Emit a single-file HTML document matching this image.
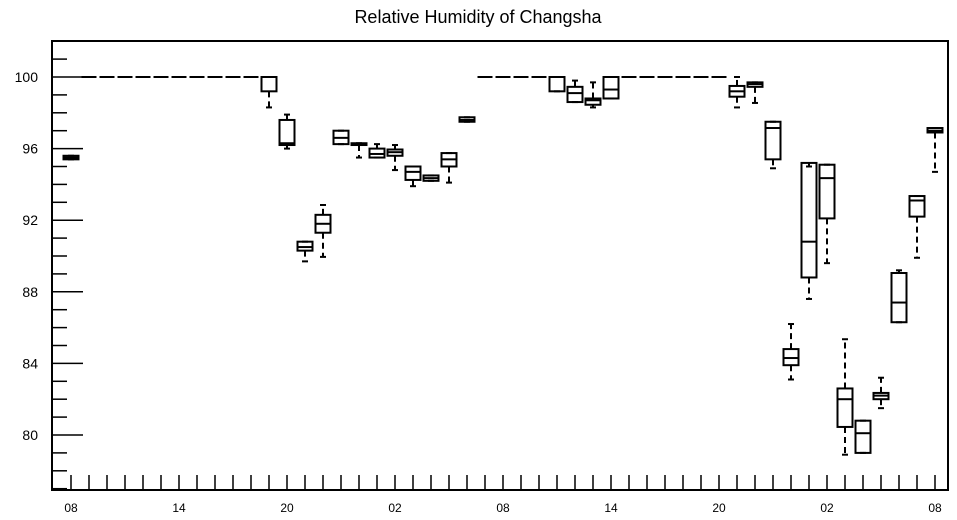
<!DOCTYPE html>
<html><head><meta charset="utf-8"><style>
body{margin:0;background:#fff;}
svg{display:block;font-family:"Liberation Sans",sans-serif;}
</style></head><body>
<svg id="c" width="957" height="520">
<text x="478" y="23" text-anchor="middle" font-size="18">Relative Humidity of Changsha</text>
<g id="axes"></g><g id="boxes"></g>
</svg>
<script>
const hours=[0,1,2,3,4,5,6,7,8,9,10,11,12,13,14,15,16,17,18,19,20,21,22,23,24,25,26,27,28,29,30,31,32,33,34,35,36,37,38,39,40,41,42,43,44,45,46,47,48];
const lowW=[95.4,100,100,100,100,100,100,100,100,100,100,98.3,96.0,89.7,89.95,96.25,95.5,95.5,94.8,93.9,94.2,94.1,97.5,100,100,100,100,99.2,98.6,98.3,98.8,100,100,100,100,100,100,98.3,98.55,94.9,83.1,87.6,89.6,78.9,79.0,81.5,86.3,89.9,94.7];
const q1=[95.4,100,100,100,100,100,100,100,100,100,100,99.2,96.2,90.3,91.3,96.25,96.2,95.5,95.6,94.25,94.2,95.0,97.5,100,100,100,100,99.2,98.6,98.45,98.8,100,100,100,100,100,100,98.9,99.45,95.4,83.9,88.8,92.1,80.45,79.0,82.0,86.3,92.2,96.9];
const med=[95.5,100,100,100,100,100,100,100,100,100,100,100,96.3,90.5,91.8,96.6,96.25,95.7,95.8,94.7,94.35,95.4,97.6,100,100,100,100,100,99.1,98.7,99.3,100,100,100,100,100,100,99.2,99.6,97.15,84.3,90.8,94.35,82.0,80.1,82.2,87.4,93.1,97.0];
const q3=[95.6,100,100,100,100,100,100,100,100,100,100,100,97.6,90.8,92.3,97.0,96.3,96.0,95.95,95.0,94.5,95.75,97.75,100,100,100,100,100,99.45,98.8,100,100,100,100,100,100,100,99.5,99.7,97.5,84.8,95.2,95.1,82.6,80.8,82.35,89.05,93.35,97.15];
const highW=[95.6,100,100,100,100,100,100,100,100,100,100,100,97.9,90.8,92.85,97.0,96.3,96.25,96.2,95.0,94.5,95.75,97.75,100,100,100,100,100,99.8,99.7,100,100,100,100,100,100,100,100,99.7,97.5,86.2,95.0,95.1,85.35,80.8,83.2,89.2,93.35,97.15];
const yTicks=[80,84,88,92,96,100];
const xLabels=["08","14","20","02","08","14","20","02","08"];

const NS="http://www.w3.org/2000/svg";
const L=52,R=948,T=41,B=490;
const X=h=>71+18*h;
const Y=v=>77+(100-v)*17.9;
function mk(tag,at,parent){const e=document.createElementNS(NS,tag);for(const k in at)e.setAttribute(k,at[k]);parent.appendChild(e);return e;}
const ax=document.getElementById('axes');
let fr=mk('rect',{x:L,y:T,width:R-L,height:B-T,fill:'none',stroke:'#000','stroke-width':2},ax);


for(let v=77;v<=102;v++){
  const maj=yTicks.includes(v);
  const t=mk('line',{x1:L,x2:L+(maj?31:15),y1:Y(v),y2:Y(v),stroke:'#000','stroke-width':1.5},ax);
  
  
}
yTicks.forEach(v=>{
  const t=mk('text',{x:38,y:Y(v)+5,'text-anchor':'end','font-size':14},ax);t.textContent=v;
  
  
});
for(let h=-1;h<=48;h++){
  const x=X(h);if(x<=L+1)continue;
  const t=mk('line',{x1:x,x2:x,y1:B,y2:B-15,stroke:'#000','stroke-width':1.5},ax);
  
  
}
xLabels.forEach((s,i)=>{
  const t=mk('text',{x:X(i*6),y:512,'text-anchor':'middle','font-size':12},ax);t.textContent=s;
  
  
});
const bx=document.getElementById('boxes');
hours.forEach((h,i)=>{
  const x=X(h),w=15;
  const g=mk('g',{stroke:'#000','stroke-width':2,fill:'none'},bx);
  
  
  mk('line',{x1:x,x2:x,y1:Y(q3[i]),y2:Y(highW[i]),'stroke-dasharray':'6,4'},g);
  mk('line',{x1:x,x2:x,y1:Y(q1[i]),y2:Y(lowW[i]),'stroke-dasharray':'6,4'},g);
  mk('line',{x1:x-3,x2:x+3,y1:Y(highW[i]),y2:Y(highW[i])},g);
  mk('line',{x1:x-3,x2:x+3,y1:Y(lowW[i]),y2:Y(lowW[i])},g);
  mk('rect',{x:x-w/2,y:Y(q3[i]),width:w,height:Math.max(0,Y(q1[i])-Y(q3[i]))},g);
  mk('line',{x1:x-w/2,x2:x+w/2,y1:Y(med[i]),y2:Y(med[i])},g);
});
</script>
</body></html>
